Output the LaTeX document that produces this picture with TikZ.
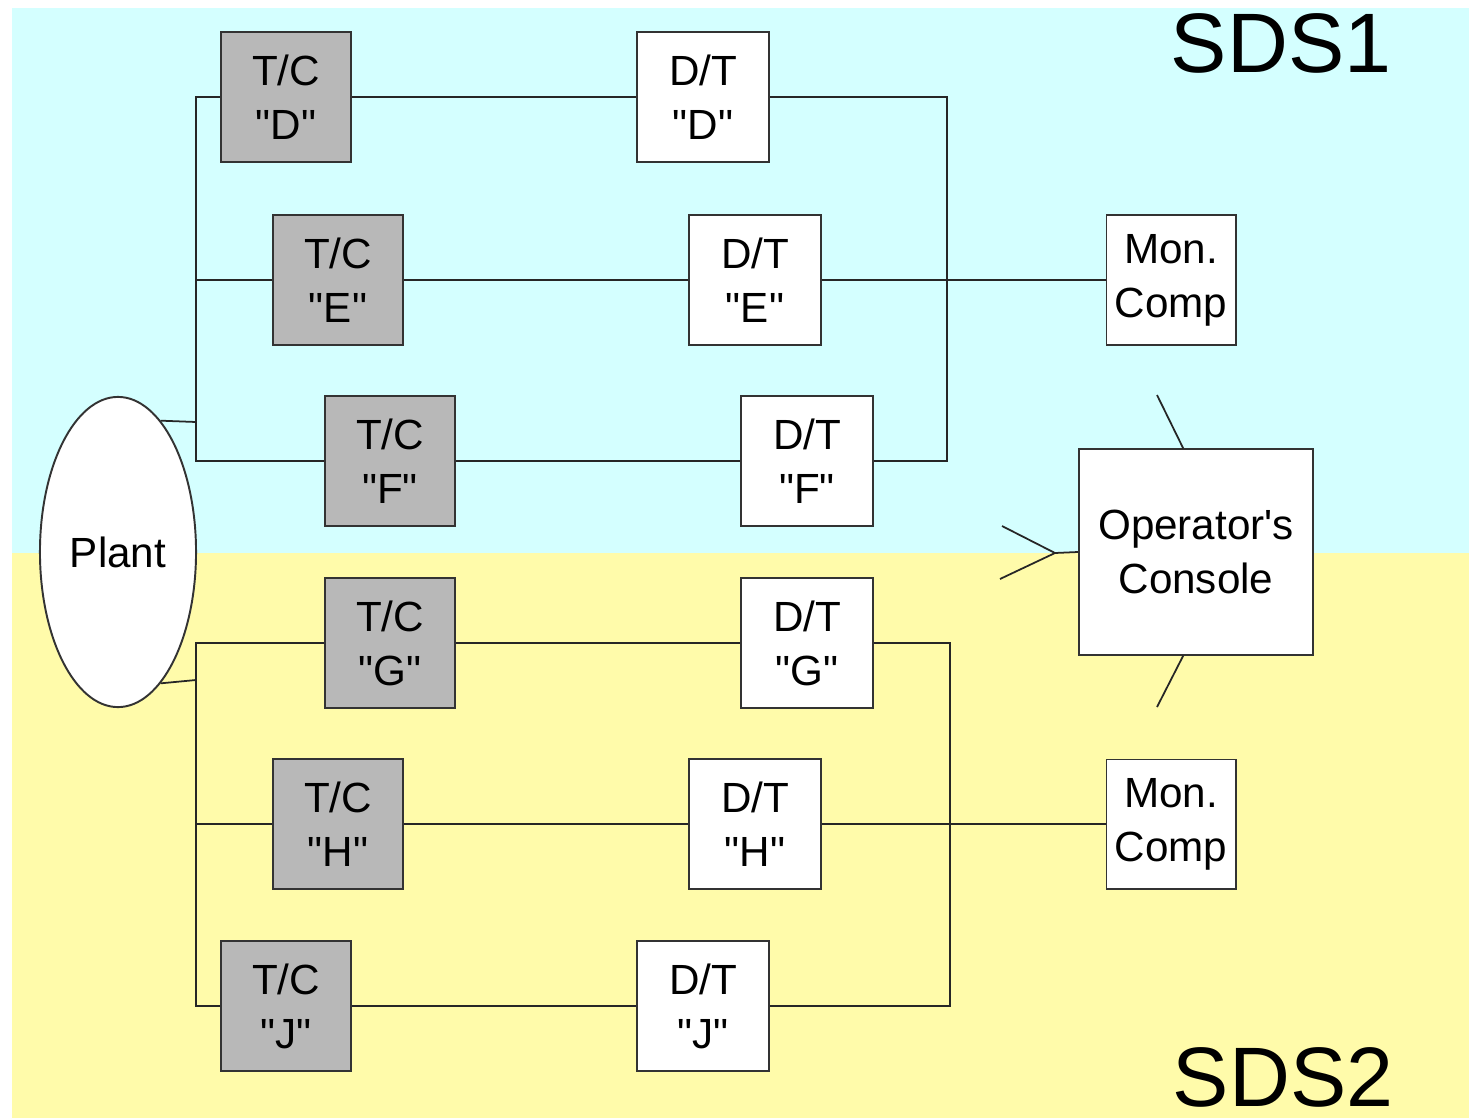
\documentclass[tikz,border=0pt]{standalone}
\usepackage{fontspec}
\setmainfont{Liberation Sans}[Ligatures=TeXOff]
\definecolor{sdscyan}{RGB}{212,255,255}
\definecolor{sdsyellow}{RGB}{255,251,170}
\definecolor{tcgray}{RGB}{184,184,184}
\usetikzlibrary{shapes.geometric}

\begin{document}
\begin{tikzpicture}[
  x=0.01cm, y=-0.01cm,
  every node/.style={font=\fontsize{12}{15.4}\selectfont},
  unitbox/.style={draw=black!80,line width=0.55pt,minimum width=1.3cm,minimum height=1.3cm,
                  align=center,inner sep=0pt},
  tcbox/.style={unitbox,fill=tcgray},
  dtbox/.style={unitbox,fill=white},
  wire/.style={line width=0.5pt,black!85},
  sdslabel/.style={font=\fontsize{24}{28}\selectfont,anchor=base,inner sep=0pt},
]
  \useasboundingbox (0,0) rectangle (1473,1118);

  % Background halves
  \fill[sdscyan] (12,8) rectangle (1469,553);
  \fill[sdsyellow] (12,553) rectangle (1469,1118);

  % Plant
  \node[draw=black!80,line width=0.55pt,fill=white,ellipse,minimum width=1.56cm,
        minimum height=3.1cm,inner sep=0pt] (plant) at (118,552) {Plant};

  % SDS1 channels
  \node[tcbox] (tcD) at (286,97)  {T/C\\"D"};
  \node[tcbox] (tcE) at (338,280) {T/C\\"E"};
  \node[tcbox] (tcF) at (390,461) {T/C\\"F"};
  \node[dtbox,minimum width=1.32cm] (dtD) at (703,97)  {D/T\\"D"};
  \node[dtbox,minimum width=1.32cm] (dtE) at (755,280) {D/T\\"E"};
  \node[dtbox,minimum width=1.32cm] (dtF) at (807,461) {D/T\\"F"};

  % SDS2 channels
  \node[tcbox] (tcG) at (390,643)  {T/C\\"G"};
  \node[tcbox] (tcH) at (338,824)  {T/C\\"H"};
  \node[tcbox] (tcJ) at (286,1006) {T/C\\"J"};
  \node[dtbox,minimum width=1.32cm] (dtG) at (807,643)  {D/T\\"G"};
  \node[dtbox,minimum width=1.32cm] (dtH) at (755,824)  {D/T\\"H"};
  \node[dtbox,minimum width=1.32cm] (dtJ) at (703,1006) {D/T\\"J"};

  % Monitoring computers and console
  \node[dtbox,minimum width=1.29cm,minimum height=1.29cm] (monA) at (1171,280) {Mon.\\Comp};
  \node[dtbox,minimum width=1.29cm,minimum height=1.29cm] (monB) at (1171,824) {Mon.\\Comp};
  \node[unitbox,fill=white,minimum width=2.34cm,minimum height=2.05cm] (console)
    at (1196,552) {Operator's\\Console};

  % Labels
  \node[sdslabel] (sdsA) at (1281,72)   {SDS1};
  \node[sdslabel] (sdsB) at (1283,1106) {SDS2};

  % Junction points
  \coordinate (jA) at (196,422);
  \coordinate (jB) at (196,680);
  \coordinate (jC) at (947,280);
  \coordinate (jD) at (950,824);
  \coordinate (fork) at (1055,553);
  \coordinate (stubA) at (1157,395);
  \coordinate (stubB) at (1157,707);
  \coordinate (stubC) at (1002,526);
  \coordinate (stubD) at (1000,579);

  % Plant to T/C units
  \draw[wire] (plant.72) -- (jA) |- (tcF.west);
  \draw[wire] (tcD.west) -| (jA);
  \draw[wire] (tcE.west) -- (tcE.west -| jA);
  \draw[wire] (plant.-72) -- (jB);
  \draw[wire] (tcG.west) -| (jB);
  \draw[wire] (tcJ.west) -| (jB);
  \draw[wire] (tcH.west) -- (tcH.west -| jB);

  % T/C to D/T
  \draw[wire] (tcD) -- (dtD);
  \draw[wire] (tcE) -- (dtE);
  \draw[wire] (tcF) -- (dtF);
  \draw[wire] (tcG) -- (dtG);
  \draw[wire] (tcH) -- (dtH);
  \draw[wire] (tcJ) -- (dtJ);

  % D/T to monitoring
  \draw[wire] (dtD.east) -| (jC);
  \draw[wire] (dtF.east) -| (jC);
  \draw[wire] (dtE) -- (monA);
  \draw[wire] (dtG.east) -| (jD);
  \draw[wire] (dtJ.east) -| (jD);
  \draw[wire] (dtH) -- (monB);

  % Console stubs
  \draw[wire] (stubA) -- (console.97);
  \draw[wire] (stubB) -- (console.-97);
  \draw[wire] (console.west) -- (fork) -- (stubC);
  \draw[wire] (fork) -- (stubD);
\end{tikzpicture}
\end{document}
